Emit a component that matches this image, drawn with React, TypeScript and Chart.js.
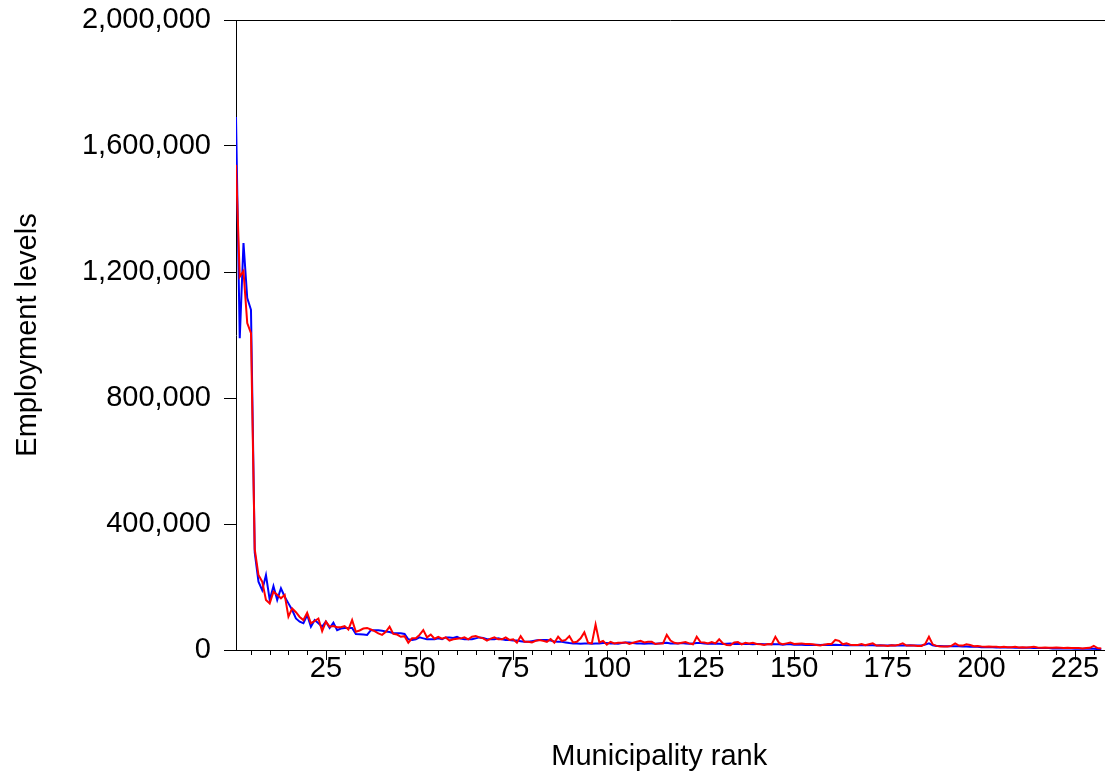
import React, { useEffect, useRef } from 'react';
import { Chart, registerables } from 'chart.js';

Chart.register(...registerables);

// Municipality ranks 1..232
const ranks: number[] = [];
for (let r = 1; r <= 232; r++) ranks.push(r);

// Employment levels, in thousands (blue series)
const blueK: number[] = [
  1692, 990, 1292, 1117, 1080, 310, 217, 190, 238, 159,
  203, 159, 196, 169, 148, 127, 100, 90, 85, 111,
  74, 95, 85, 74, 90, 70, 87, 63, 68, 70,
  70, 70, 51, 50, 49, 48, 63, 63, 63,
  61, 59, 57, 53, 53, 53, 51, 34, 32, 34,
  40, 37, 34, 34, 34, 37, 34, 40, 40, 38,
  42, 36, 34, 34, 34, 37, 40, 38, 34, 34,
  34, 37, 34, 32, 32, 30, 30, 28,
  26, 26, 28, 30, 32, 32, 32, 30, 27, 26,
  26, 24, 22, 21, 21, 20, 21, 21, 20, 21,
  21, 22, 22, 21, 21, 20, 22, 24, 24, 22,
  21, 21, 20, 21, 21, 20, 21, 22, 23, 21,
  21, 21, 22, 21, 20, 21, 22, 22, 21, 20,
  20, 21, 20, 19, 20, 21, 19, 19, 20, 19,
  19, 18, 19, 19, 18, 18, 19, 18, 18, 17,
  18, 18, 17, 17, 17, 16, 17, 16,
  17, 16, 17, 16, 16, 17, 16, 16, 15, 16,
  15, 15, 16, 15, 15, 15, 14, 15, 14, 14,
  15, 14, 14, 14, 14, 15, 14, 14, 14, 17,
  21, 15, 13, 13, 12, 12, 12, 12, 12,
  11, 11, 10, 10, 10, 9, 9, 9, 9, 8,
  8, 8, 8, 8, 7, 7, 7, 7, 7, 6,
  6, 6, 6, 6, 5, 5, 5, 5, 5, 5,
  4, 4, 4, 4, 4, 4, 3, 3,
];

// Employment levels, in thousands (red series)
const redK: number[] = [
  1540, 1185, 1203, 1038, 1006, 320, 238, 217, 159, 148,
  185, 175, 164, 175, 106, 132, 120, 105, 95, 118,
  85, 92, 100, 60, 90, 74, 76, 72, 72, 76,
  65, 95, 58, 62, 68, 70, 65, 60, 53,
  48, 58, 74, 51, 49, 42, 44, 23, 37, 37,
  48, 63, 40, 49, 36, 42, 36, 40, 30, 34,
  36, 37, 40, 34, 42, 44, 40, 37, 30, 36,
  40, 34, 34, 40, 32, 34, 23, 44,
  26, 26, 24, 29, 32, 29, 26, 35, 23, 42,
  29, 32, 44, 24, 26, 37, 56, 23, 21, 81,
  24, 29, 17, 26, 21, 23, 23, 24, 19, 23,
  26, 29, 24, 26, 26, 19, 21, 21, 48, 30,
  23, 21, 23, 25, 21, 18, 42, 25, 24, 21,
  25, 21, 34, 21, 16, 15, 24, 25, 18, 23,
  21, 23, 19, 18, 16, 19, 18, 42, 22, 18,
  21, 24, 19, 20, 21, 19, 19, 18,
  16, 14, 17, 19, 19, 32, 29, 18, 21, 17,
  16, 16, 19, 15, 18, 21, 14, 14, 14, 13,
  15, 14, 17, 21, 14, 14, 14, 13, 13, 19,
  42, 18, 13, 11, 11, 11, 13, 21, 14,
  14, 18, 16, 12, 13, 11, 10, 11, 10, 10,
  9, 10, 9, 9, 10, 8, 9, 8, 9, 10,
  8, 7, 8, 7, 7, 8, 7, 6, 7, 6,
  6, 6, 5, 6, 7, 13, 6, 5,
];

const xTickLabels: number[] = [25, 50, 75, 100, 125, 150, 175, 200, 225];
const yTickValues: number[] = [0, 400000, 800000, 1200000, 1600000, 2000000];
const xTitle = 'Municipality rank';
const yTitle = 'Employment levels';

const FONT = '"Liberation Sans", Arial, Helvetica, sans-serif';
const FONT_SIZE = 29;

const frameAndTicks = {
  id: 'frameAndTicks',
  afterDraw(chart: any) {
    const { ctx, chartArea, scales } = chart;
    const x = scales.x;
    ctx.save();
    ctx.strokeStyle = '#000';
    ctx.lineWidth = 1;
    ctx.beginPath();
    for (let v = 5; v <= 230; v += 5) {
      const px = Math.round(x.getPixelForValue(v)) + 0.5;
      const len = v % 25 === 0 ? 10 : 5;
      ctx.moveTo(px, chartArea.bottom);
      ctx.lineTo(px, chartArea.bottom + len);
    }
    const ty = Math.round(chartArea.top) + 0.5;
    ctx.moveTo(chartArea.left, ty);
    ctx.lineTo(chartArea.right, ty);
    ctx.stroke();
    // x-axis title (placed as in the reference, slightly left of the area centre)
    ctx.fillStyle = '#000';
    ctx.font = `${FONT_SIZE}px ${FONT}`;
    ctx.textAlign = 'center';
    ctx.textBaseline = 'middle';
    ctx.fillText(xTitle, x.getPixelForValue(114), 757);
    ctx.restore();
  },
};

export default function App() {
  const ref = useRef<HTMLCanvasElement | null>(null);

  useEffect(() => {
    if (!ref.current) return;
    const chart = new Chart(ref.current, {
      type: 'line',
      data: {
        datasets: [
          {
            label: 'Red',
            data: ranks.map((r, i) => ({ x: r, y: redK[i] * 1000 })),
            borderColor: '#FF0000',
            borderWidth: 2,
            pointRadius: 0,
            tension: 0,
            fill: false,
          },
          {
            label: 'Blue',
            data: ranks.map((r, i) => ({ x: r, y: blueK[i] * 1000 })),
            borderColor: '#0000FF',
            borderWidth: 2,
            pointRadius: 0,
            tension: 0,
            fill: false,
          },
        ],
      },
      options: {
        animation: false,
        responsive: true,
        maintainAspectRatio: false,
        layout: { padding: { top: 20, left: 0, right: 0, bottom: 0 } },
        plugins: {
          legend: { display: false },
          tooltip: { enabled: false },
        },
        scales: {
          x: {
            type: 'linear',
            min: 1,
            max: 233,
            afterBuildTicks: (scale: any) => {
              scale.ticks = xTickLabels.map((v) => ({ value: v }));
            },
            afterFit: (scale: any) => {
              scale.height = 125;
              scale.paddingLeft = 0;
              scale.paddingRight = 0;
            },
            ticks: {
              autoSkip: false,
              maxRotation: 0,
              padding: 2,
              color: '#000',
              font: { family: FONT, size: FONT_SIZE },
            },
            grid: { display: true, drawOnChartArea: false, drawTicks: false },
            border: { display: true, color: '#000', width: 1 },
            title: { display: false },
          },
          y: {
            type: 'linear',
            min: 0,
            max: 2000000,
            afterBuildTicks: (scale: any) => {
              scale.ticks = yTickValues.map((v) => ({ value: v }));
            },
            afterFit: (scale: any) => {
              scale.width = 236;
              scale.paddingTop = 0;
              scale.paddingBottom = 0;
            },
            ticks: {
              padding: 13,
              color: '#000',
              font: { family: FONT, size: FONT_SIZE },
              callback: (v: any) => Number(v).toLocaleString('en-US'),
            },
            grid: { display: true, drawOnChartArea: false, drawTicks: true, tickLength: 12, color: '#000' },
            border: { display: true, color: '#000', width: 1 },
            title: {
              display: true,
              text: yTitle,
              color: '#000',
              font: { family: FONT, size: FONT_SIZE },
              padding: { top: 11, bottom: 0 },
            },
          },
        },
      },
      plugins: [frameAndTicks],
    });
    return () => chart.destroy();
  }, []);

  return (
    <div style={{ position: 'fixed', left: 0, top: 0, width: 1105, height: 775, background: '#fff' }}>
      <canvas ref={ref} />
    </div>
  );
}
